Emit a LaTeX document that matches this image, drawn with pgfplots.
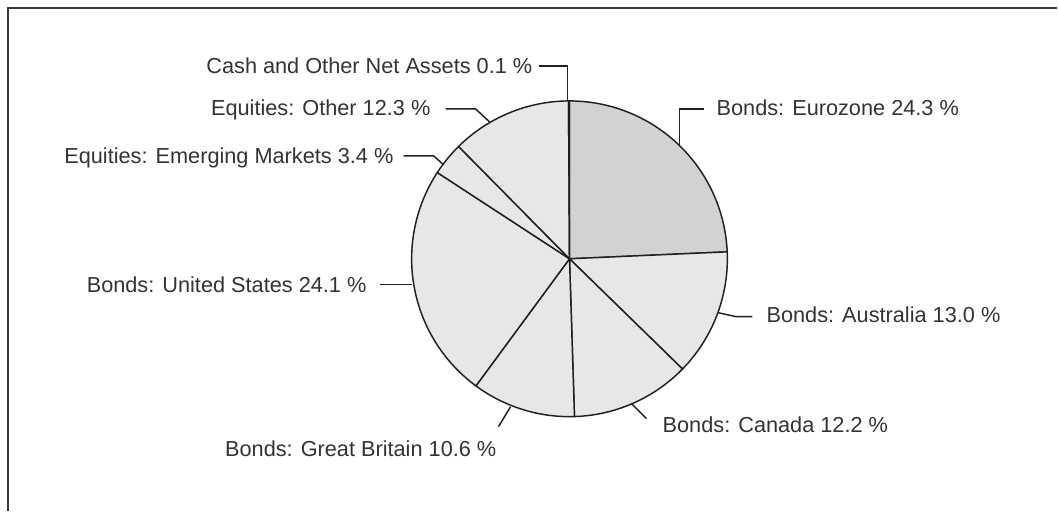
\documentclass[border=0pt]{standalone}
\usepackage{pgfplots}
\pgfplotsset{compat=1.18}
\usepackage{fontspec}
\setmainfont{Liberation Sans}
\definecolor{txt}{HTML}{333333}
\definecolor{sliceA}{HTML}{D1D2D4}
\definecolor{sliceB}{HTML}{E6E7E8}
\definecolor{edge}{HTML}{231F20}
\definecolor{frame}{HTML}{3A3A3A}

\newcommand\cx{570}
\newcommand\cy{259}
\newcommand\rr{158}
% #1 = cumulative share before the slice (%), #2 = share (%), #3 = colour
\newcommand\slice[3]{%
 \addplot[fill=#3, draw=edge, line width=1.1pt, line join=round,
   domain={90-3.6*(#1+#2)}:{90-3.6*(#1)}, samples=90, variable=\t]
   ({\cx+\rr*cos(\t)},{\cy-\rr*sin(\t)}) -- (axis cs:\cx,\cy) -- cycle;}

\begin{document}
\begin{tikzpicture}[lbl/.style={inner sep=0pt, text=txt, font=\fontsize{16.3}{19}\selectfont}]
\begin{axis}[
  hide axis, scale only axis,
  x=0.75pt, y=0.75pt, y dir=reverse,
  xmin=0, xmax=1058, ymin=0, ymax=511,
  clip=false,
]
% bounding corners
\addplot[draw=none] coordinates {(0,0) (1058,511)};
% frame
\addplot[frame, line width=1.4pt] coordinates {(8,511) (8,8) (1058,8)};

% slices (clockwise from 12 o'clock), shares in percent
\slice{0}{24.3}{sliceA}      % Bonds: Eurozone
\slice{24.3}{13.0}{sliceB}   % Bonds: Australia
\slice{37.3}{12.2}{sliceB}   % Bonds: Canada
\slice{49.5}{10.6}{sliceB}   % Bonds: Great Britain
\slice{60.1}{24.1}{sliceB}   % Bonds: United States
\slice{84.2}{3.4}{sliceB}    % Equities: Emerging Markets
\slice{87.6}{12.3}{sliceB}   % Equities: Other
\slice{99.9}{0.1}{sliceB}    % Cash and Other Net Assets

% leader lines
\addplot[edge, line width=1.1pt] coordinates {(539,66) (568,66) (568,101)};
\addplot[edge, line width=1.1pt] coordinates {(680,145) (680,109) (705,109)};
\addplot[edge, line width=1.1pt] coordinates {(446,109) (476,109) (490,122)};
\addplot[edge, line width=1.1pt] coordinates {(404,156) (434,156) (444,165)};
\addplot[edge, line width=1.1pt] coordinates {(380,285) (412,285)};
\addplot[edge, line width=1.1pt] coordinates {(511,407) (499,427)};
\addplot[edge, line width=1.1pt] coordinates {(632,404) (647,419)};
\addplot[edge, line width=1.1pt] coordinates {(719,313) (737,317) (753,317)};

% labels
\node[lbl, anchor=base east] at (axis cs:533,74) {Cash and Other Net Assets 0.1 \%};
\node[lbl, anchor=base east] at (axis cs:431,116) {Equities: Other 12.3 \%};
\node[lbl, anchor=base east] at (axis cs:394,164) {Equities: Emerging Markets 3.4 \%};
\node[lbl, anchor=base east] at (axis cs:367,293) {Bonds: United States 24.1 \%};
\node[lbl, anchor=base east] at (axis cs:497,457) {Bonds: Great Britain 10.6 \%};
\node[lbl, anchor=base west] at (axis cs:663,433) {Bonds: Canada 12.2 \%};
\node[lbl, anchor=base west] at (axis cs:767,323) {Bonds: Australia 13.0 \%};
\node[lbl, anchor=base west] at (axis cs:717,116) {Bonds: Eurozone 24.3 \%};
\end{axis}
\end{tikzpicture}
\end{document}
